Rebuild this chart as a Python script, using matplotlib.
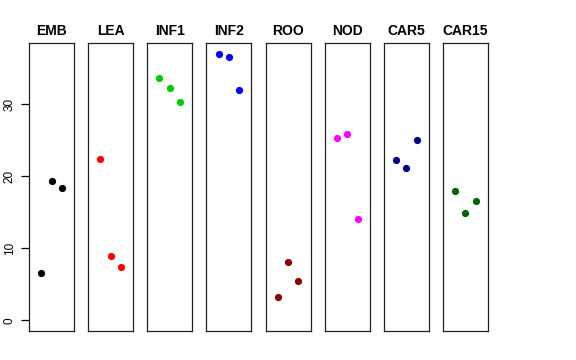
import matplotlib
matplotlib.use("Agg")
import matplotlib.pyplot as plt

plt.rcParams['font.family'] = ['Liberation Sans', 'DejaVu Sans']

categories = ["EMB", "LEA", "INF1", "INF2", "ROO", "NOD", "CAR5", "CAR15"]
colors = ["#000000", "#FF0000", "#00CD00", "#0000FF", "#8B0000", "#FF00FF", "#00008B", "#006400"]
values = {
    "EMB":   [6.6, 19.4, 18.3],
    "LEA":   [22.4, 8.9, 7.4],
    "INF1":  [33.6, 32.3, 30.3],
    "INF2":  [37.0, 36.6, 32.0],
    "ROO":   [3.25, 8.15, 5.4],
    "NOD":   [25.3, 25.9, 14.0],
    "CAR5":  [22.3, 21.1, 25.0],
    "CAR15": [17.9, 14.9, 16.5],
}
xpos = [1, 2, 3]
yticks = [0, 10, 20, 30]

W, H = 576, 360
fig = plt.figure(figsize=(W / 100, H / 100), dpi=100)

ymax = max(max(v) for v in values.values())
ymin = 0.0
pad_y = 0.04 * (ymax - ymin)
pad_x = 0.04 * 4

left0, step, pw = 29, 59.14, 45
top, bottom = 43, 331
for i, cat in enumerate(categories):
    l = left0 + i * step
    ax = fig.add_axes([l / W, (H - bottom) / H, pw / W, (bottom - top) / H])
    ax.plot(xpos, values[cat], 'o', color=colors[i], markersize=5.2, markeredgewidth=0)
    ax.set_xlim(0 - pad_x, 4 + pad_x)
    ax.set_ylim(ymin - pad_y, ymax + pad_y)
    ax.set_xticks([])
    ax.set_title(cat, fontsize=10, fontweight='bold', pad=6)
    for s in ax.spines.values():
        s.set_linewidth(0.9)
        s.set_color('#222222')
    if i == 0:
        ax.set_yticks(yticks)
        ax.tick_params(axis='y', length=5.5, width=0.9, pad=4, labelsize=8.5, labelrotation=90)
        for lab in ax.get_yticklabels():
            lab.set_va('center')
    else:
        ax.set_yticks([])

fig.savefig("out.png", dpi=100)
